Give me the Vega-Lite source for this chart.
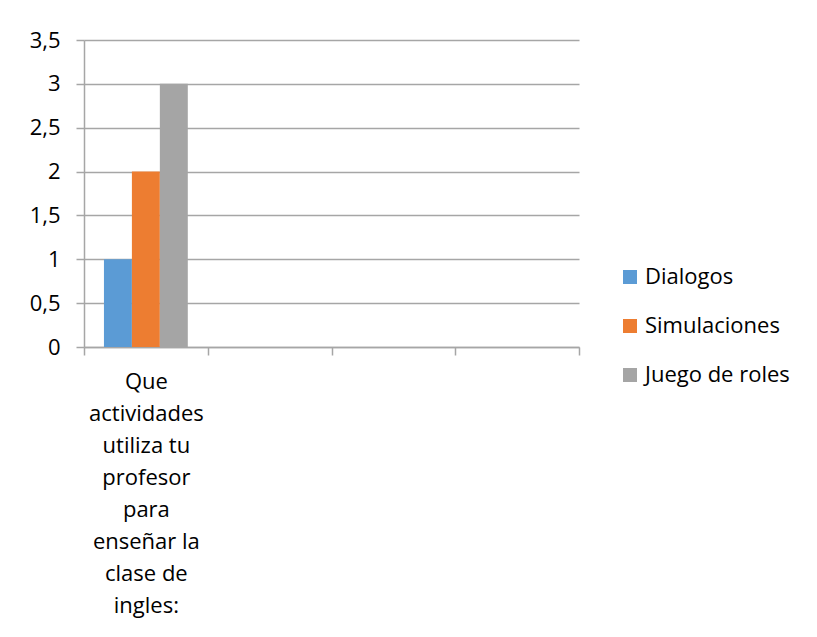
{
  "$schema": "https://vega.github.io/schema/vega-lite/v6.json",
  "width": 495,
  "height": 307,
  "autosize": {"type": "none"},
  "padding": {"left": 84, "top": 40, "right": 238, "bottom": 290},
  "background": "white",
  "config": {
    "view": {"stroke": null},
    "font": "Open Sans"
  },
  "data": {
    "values": [
      {"pregunta": "Que actividades utiliza tu profesor para enseñar la clase de ingles:", "actividad": "Dialogos", "valor": 1},
      {"pregunta": "Que actividades utiliza tu profesor para enseñar la clase de ingles:", "actividad": "Simulaciones", "valor": 2},
      {"pregunta": "Que actividades utiliza tu profesor para enseñar la clase de ingles:", "actividad": "Juego de roles", "valor": 3}
    ]
  },
  "mark": {"type": "bar"},
  "encoding": {
    "x": {
      "field": "pregunta",
      "type": "nominal",
      "sort": null,
      "scale": {
        "domain": ["Que actividades utiliza tu profesor para enseñar la clase de ingles:", "b", "c", "d"],
        "paddingInner": 0,
        "paddingOuter": 0
      },
      "axis": {
        "title": null,
        "labelAngle": 0,
        "tickBand": "extent",
        "ticks": true,
        "tickSize": 8,
        "tickColor": "#a6a6a6",
        "tickWidth": 1.5,
        "domainColor": "#a6a6a6",
        "domainWidth": 1.5,
        "grid": false,
        "labelFont": "Open Sans",
        "labelFontSize": 22,
        "labelColor": "#000000",
        "labelLineHeight": 32,
        "labelBaseline": "top",
        "labelPadding": 16,
        "labelLimit": 0,
        "labelExpr": "datum.value == 'Que actividades utiliza tu profesor para enseñar la clase de ingles:' ? ['Que', 'actividades', 'utiliza tu', 'profesor', 'para', 'enseñar la', 'clase de', 'ingles:'] : ''"
      }
    },
    "xOffset": {
      "field": "actividad",
      "type": "nominal",
      "sort": null,
      "scale": {
        "domain": ["Dialogos", "Simulaciones", "Juego de roles"],
        "paddingInner": 0,
        "paddingOuter": 0.714
      }
    },
    "y": {
      "field": "valor",
      "type": "quantitative",
      "scale": {"domain": [0, 3.5], "nice": false},
      "axis": {
        "title": null,
        "values": [0, 0.5, 1, 1.5, 2, 2.5, 3, 3.5],
        "grid": true,
        "gridColor": "#a6a6a6",
        "gridWidth": 1.5,
        "domain": true,
        "domainColor": "#a6a6a6",
        "domainWidth": 1.5,
        "ticks": true,
        "tickSize": 8,
        "tickColor": "#a6a6a6",
        "tickWidth": 1.5,
        "labelFont": "Open Sans",
        "labelFontSize": 22,
        "labelColor": "#000000",
        "labelPadding": 16,
        "labelExpr": "replace(format(datum.value, '~g'), '.', ',')"
      }
    },
    "color": {
      "field": "actividad",
      "type": "nominal",
      "sort": null,
      "scale": {
        "domain": ["Dialogos", "Simulaciones", "Juego de roles"],
        "range": ["#5B9BD5", "#ED7D31", "#A5A5A5"]
      },
      "legend": {
        "title": null,
        "orient": "none",
        "legendX": 535,
        "legendY": 226,
        "symbolType": "square",
        "symbolSize": 196,
        "symbolStrokeWidth": 0,
        "labelFont": "Open Sans",
        "labelFontSize": 22,
        "labelColor": "#000000",
        "labelOffset": 4,
        "rowPadding": 27
      }
    }
  }
}
